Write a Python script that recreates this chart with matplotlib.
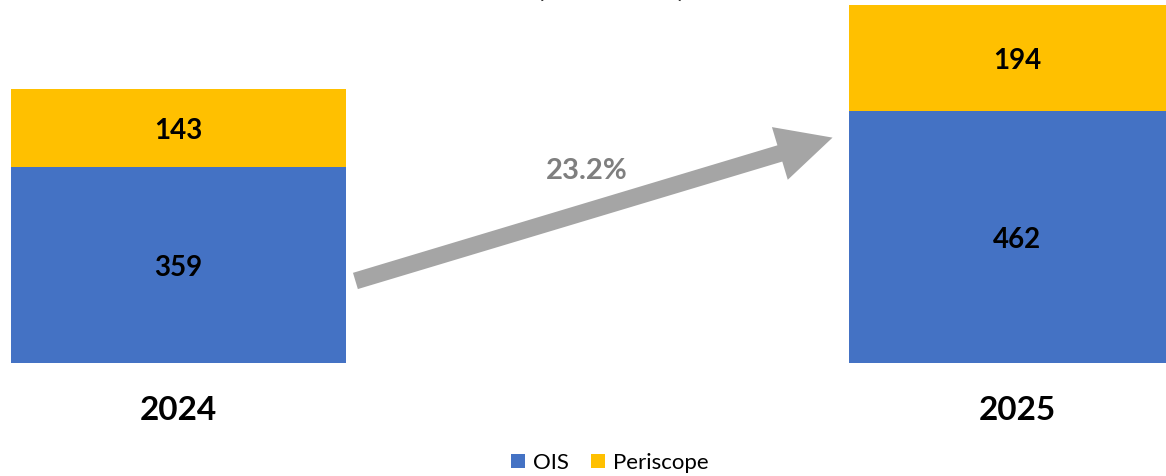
import numpy as np
import matplotlib
matplotlib.use("Agg")
import matplotlib.pyplot as plt
from matplotlib.patches import Patch

# ── Data ──────────────────────────────────────────────────────────────────────
years = ["2024", "2025"]
ois = [359, 462]
periscope = [143, 194]
growth_label = "23.2%"
title_text = "(Mn units)"

BLUE = "#4472C4"
GOLD = "#FFC000"
GREY = "#A5A5A5"

plt.rcParams["font.family"] = ["Lato", "DejaVu Sans"]

W, H = 1166, 476
fig = plt.figure(figsize=(W / 100, H / 100), dpi=100)
ax = fig.add_axes([0, 0, 1, 1])
ax.set_axis_off()

# axis limits chosen so the layout matches the cropped original
px_per_cat = 838.5
x0_px = 178.5
base_px = 362.7
px_per_unit = 0.545
ax.set_xlim(-x0_px / px_per_cat, (W - x0_px) / px_per_cat)
ax.set_ylim(-(H - base_px) / px_per_unit, base_px / px_per_unit)

x = np.arange(len(years))
bw = 0.4
ax.bar(x, ois, bw, color=BLUE, label="OIS")
ax.bar(x, periscope, bw, bottom=ois, color=GOLD, label="Periscope")

lbl_shift = -6  # small nudge so digits sit where the original's do
for i in range(len(years)):
    ax.text(x[i], ois[i] / 2 + lbl_shift, str(ois[i]), ha="center", va="center",
            fontsize=20, fontweight="bold", color="black")
    ax.text(x[i], ois[i] + periscope[i] / 2 + lbl_shift, str(periscope[i]),
            ha="center", va="center", fontsize=20, fontweight="bold",
            color="black")
    ax.text(x[i], -88, years[i], ha="center", va="center",
            fontsize=24, fontweight="bold", color="black")

# growth arrow between the bars
ax.annotate("", xy=(0.780, 413), xytext=(0.211, 150),
            arrowprops=dict(arrowstyle="simple,tail_width=1.22,head_width=3.96,head_length=3.96",
                            mutation_scale=10, color=GREY, shrinkA=0, shrinkB=0,
                            lw=0))
ax.text(0.487, 352, growth_label, ha="center", va="center",
        fontsize=21, fontweight="bold", color="#7F7F7F")

# title (cropped at the top in the original)
fig.text(611 / W, 1 + 4 / H, title_text, ha="center", va="baseline",
         fontsize=24, fontweight="bold", color="black")

handles = [Patch(facecolor=BLUE, label="OIS"),
           Patch(facecolor=GOLD, label="Periscope")]
fig.legend(handles=handles, loc="center", bbox_to_anchor=(610 / W, 1 - 463 / H),
           ncol=2, frameon=False, fontsize=16, handlelength=0.63,
           handleheight=0.63, handletextpad=0.36, columnspacing=1.0)

fig.savefig("out.png", dpi=100)
